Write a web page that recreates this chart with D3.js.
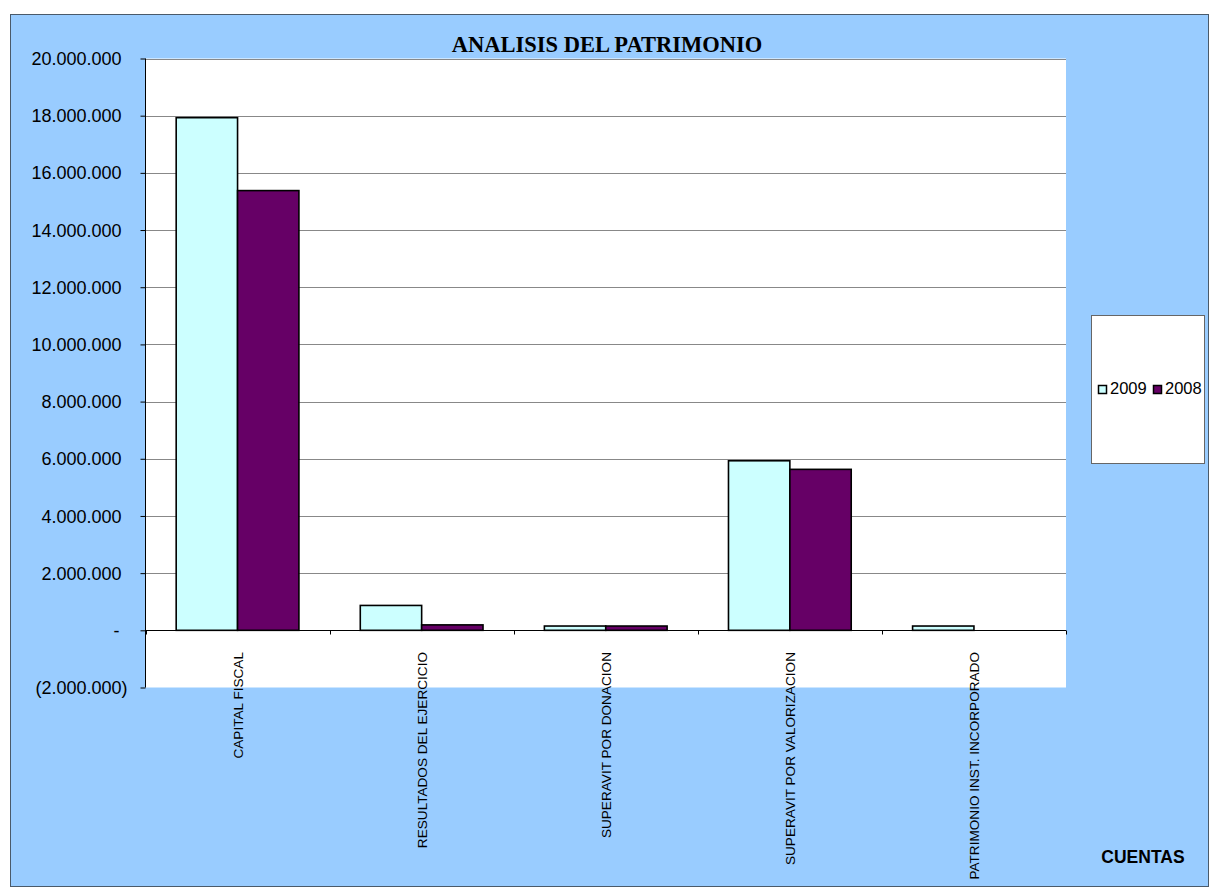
<!DOCTYPE html>
<html><head><meta charset="utf-8">
<script src="https://cdn.jsdelivr.net/npm/d3@7"></script>
<style>body{margin:0;background:#fff}</style>
</head><body>
<script>
const categories = ["CAPITAL FISCAL","RESULTADOS DEL EJERCICIO","SUPERAVIT POR DONACION","SUPERAVIT POR VALORIZACION","PATRIMONIO INST. INCORPORADO"];
const seriesNames = ["2009","2008"];
const values2009 = [17930000, 870000, 150000, 5930000, 150000];
const values2008 = [15380000, 190000, 150000, 5630000, 0];
const yTicks = [-2000000,0,2000000,4000000,6000000,8000000,10000000,12000000,14000000,16000000,18000000,20000000];
const colors = ["#CCFFFF","#660066"];

const W=1209,H=887;
const FONT="Liberation Sans, Arial, sans-serif";
const svg=d3.select("body").append("svg").attr("width",W).attr("height",H);
svg.append("rect").attr("x",10.5).attr("y",14.5).attr("width",W-11).attr("height",H-15).attr("fill","#99CCFF").attr("stroke","#4a5a6a");
const L=145.5,R=1066,T=58.5,B=687.5;
svg.append("rect").attr("x",L).attr("y",T).attr("width",R-L).attr("height",B-T).attr("fill","#fff");
const y=d3.scaleLinear().domain([-2000000,20000000]).range([B,T]);
const x=d3.scaleBand().domain(categories).range([L,R]).paddingInner(0).paddingOuter(0);
const xs=d3.scaleBand().domain(seriesNames).range([0,x.bandwidth()]).paddingInner(0).paddingOuter(0.5);
// gridlines
svg.append("g").selectAll("line").data(yTicks.filter(d=>d>0)).join("line")
 .attr("x1",L).attr("x2",R).attr("y1",d=>Math.round(y(d))+0.5).attr("y2",d=>Math.round(y(d))+0.5).attr("stroke","#888").attr("stroke-width",1);
// y axis
const fmt=d=>{ if(d===0) return "-"; const s=d3.format(",")(Math.abs(d)).replace(/,/g,"."); return d<0?"("+s+")":s;};
const ya=svg.append("g").attr("transform",`translate(${L},0)`).call(d3.axisLeft(y).tickValues(yTicks).tickFormat(fmt).tickSize(5));
ya.select(".domain").attr("stroke","#000").attr("d",`M0,${T}V${B}`);
ya.selectAll(".tick line").attr("stroke","#000");
ya.selectAll("text").attr("font-family",FONT).attr("font-size",18).attr("fill","#000")
  .attr("x",d=>d<0?-18:(d===0?-26:-24)).attr("dy","0.34em");
// bars
const data=categories.map((c,i)=>({c,vals:[values2009[i],values2008[i]]}));
const g=svg.append("g");
data.forEach(d=>{
  d.vals.forEach((v,j)=>{
    if(v===0) return;
    g.append("rect").attr("x",x(d.c)+xs(seriesNames[j])).attr("width",xs.bandwidth())
     .attr("y",y(v)).attr("height",y(0)-y(v)).attr("fill",colors[j]).attr("stroke","#000").attr("stroke-width",1.6);
  });
});
// x axis at 0
const y0=Math.round(y(0))+0.5;
svg.append("line").attr("x1",L).attr("x2",R).attr("y1",y0).attr("y2",y0).attr("stroke","#000");
svg.append("g").selectAll("line").data(d3.range(categories.length+1)).join("line")
 .attr("x1",i=>Math.round(L+i*x.step())+0.5).attr("x2",i=>Math.round(L+i*x.step())+0.5).attr("y1",y0).attr("y2",y0+4).attr("stroke","#000");
// category labels
svg.append("g").selectAll("text").data(categories).join("text")
 .attr("transform",d=>`translate(${x(d)+x.bandwidth()/2+5},652) rotate(-90)`)
 .attr("text-anchor","end").attr("font-family",FONT).attr("font-size",13.6).text(d=>d);
// title
svg.append("text").attr("x",607).attr("y",51.5).attr("text-anchor","middle").attr("font-family","Liberation Serif, Times New Roman, serif").attr("font-weight","bold").attr("font-size",22.5).text("ANALISIS DEL PATRIMONIO");
// axis title
svg.append("text").attr("x",1143).attr("y",863).attr("text-anchor","middle").attr("font-family",FONT).attr("font-weight","bold").attr("font-size",17.5).text("CUENTAS");
// legend
svg.append("rect").attr("x",1091.5).attr("y",315.5).attr("width",113).attr("height",148).attr("fill","#fff").attr("stroke","#666");
const lg=svg.append("g").selectAll("g").data(seriesNames).join("g").attr("transform",(d,i)=>`translate(${1098+i*55},394)`);
lg.append("rect").attr("x",0.5).attr("y",-8.5).attr("width",8).attr("height",8).attr("fill",(d,i)=>colors[i]).attr("stroke","#000").attr("stroke-width",1.5);
lg.append("text").attr("x",12).attr("y",0).attr("font-family",FONT).attr("font-size",16.5).text(d=>d);
</script>
</body></html>
